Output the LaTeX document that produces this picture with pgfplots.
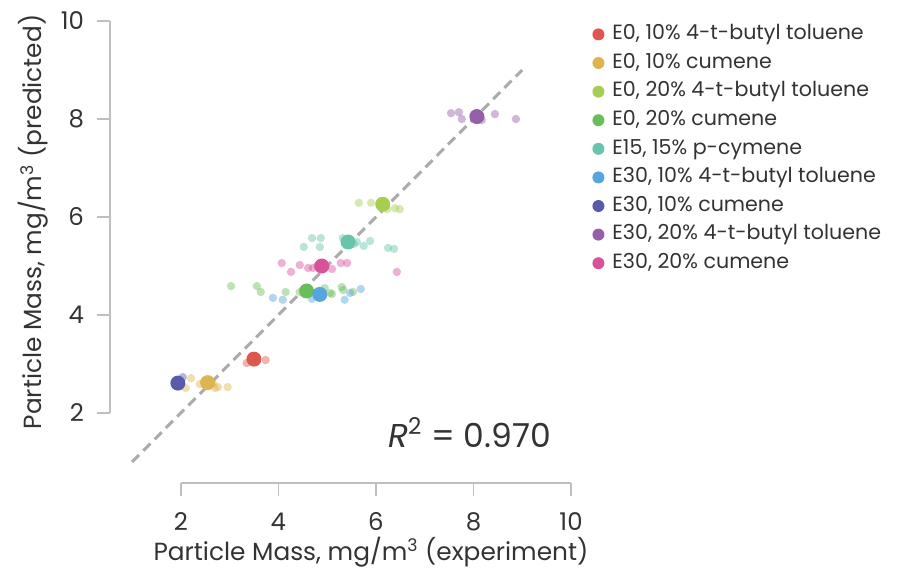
\documentclass[border=0pt]{standalone}
\usepackage{pgfplots}
\pgfplotsset{compat=1.18}
\usepackage{fontspec}
\setmainfont{Poppins}
\definecolor{cA}{RGB}{221,87,78}
\definecolor{cB}{RGB}{222,180,80}
\definecolor{cC}{RGB}{166,206,80}
\definecolor{cD}{RGB}{106,190,90}
\definecolor{cE}{RGB}{104,196,170}
\definecolor{cF}{RGB}{86,165,220}
\definecolor{cG}{RGB}{90,90,170}
\definecolor{cH}{RGB}{150,95,170}
\definecolor{cI}{RGB}{215,82,155}
\definecolor{txt}{RGB}{51,51,51}
\pgfplotsset{
  small/.style={only marks, mark=*, mark size=2.1pt, forget plot, color=#1,
    mark options={fill=#1, fill opacity=0.45, draw opacity=0}},
  big/.style={only marks, mark=*, mark size=3.75pt, color=#1,
    mark options={fill=#1, draw opacity=0}},
}
\begin{document}
\begin{tikzpicture}
\begin{axis}[
  at={(0,0)}, anchor=south west,
  scale only axis, width=230.5pt, height=231pt,
  xmin=0.5487, xmax=10, ymin=0.5714, ymax=10,
  axis x line*=bottom, axis y line*=left,
  axis line style={draw=none},
  xtick={2,4,6,8,10}, ytick={2,4,6,8,10},
  tick align=outside,
  major tick length=6.5pt,
  tick style={draw=black!25, line width=0.75pt},
  ticklabel style={font=\fontsize{12.2}{14}\selectfont, text=txt},
  /pgf/number format/assume math mode=true,
  xticklabel style={anchor=base, yshift=-17pt},
  yticklabel style={anchor=east, xshift=-3pt},
  xlabel={Particle Mass, mg/m\textsuperscript{3} (experiment)},
  ylabel={Particle Mass, mg/m\textsuperscript{3} (predicted)},
  label style={font=\fontsize{12.4}{14}\selectfont, text=txt},
  xlabel style={at={(axis description cs:0.566,-0.1667)}, anchor=base},
  ylabel style={at={(axis description cs:-0.1475,0.565)}, anchor=base},
  clip=false,
  legend style={at={(axis description cs:1.0456,0.9935)}, anchor=north west,
    draw=none, fill=none, font=\fontsize{10.3}{12}\selectfont, text=txt,
    row sep=4.3pt, column sep=2pt, inner sep=0pt,
    nodes={inner ysep=0pt, text height=7.6pt, text depth=2.4pt}},
  legend cell align=left,
  legend image code/.code={\draw[#1, mark size=3pt] plot coordinates {(0pt,0pt)};},
]
\addplot[forget plot, color=black!33, line width=1.5pt, dash pattern=on 5pt off 3pt] coordinates {(1,1) (9,9)};

\addplot[small=cA] coordinates {(3.35,3.02) (3.74,3.08) (3.45,3.07)};
\addplot[small=cB] coordinates {(2.21,2.71) (2.10,2.51) (2.39,2.59) (2.66,2.61) (2.76,2.53) (2.96,2.53) (2.70,2.51) (2.50,2.58)};
\addplot[small=cC] coordinates {(5.65,6.29) (5.90,6.29) (6.23,6.16) (6.39,6.18) (6.49,6.16) (6.20,6.22)};
\addplot[small=cD] coordinates {(3.03,4.59) (3.56,4.59) (3.64,4.47) (4.15,4.47) (4.44,4.47) (4.95,4.55) (5.06,4.45) (5.30,4.57) (5.33,4.51) (5.53,4.47) (5.10,4.43) (4.60,4.43)};
\addplot[small=cE] coordinates {(4.69,5.57) (4.87,5.57) (4.52,5.39) (4.85,5.39) (5.32,5.57) (5.61,5.49) (5.75,5.41) (5.88,5.51) (6.25,5.37) (6.37,5.35) (5.55,5.45)};
\addplot[small=cF] coordinates {(3.89,4.35) (4.09,4.31) (4.69,4.33) (5.36,4.31) (5.47,4.45) (5.69,4.53)};
\addplot[small=cG] coordinates {(2.04,2.73)};
\addplot[small=cH] coordinates {(7.54,8.12) (7.70,8.14) (7.76,8.00) (8.17,7.98) (8.44,8.10) (8.87,8.00)};
\addplot[small=cI] coordinates {(4.07,5.06) (4.26,4.88) (4.44,5.02) (4.61,4.96) (4.71,4.96) (5.10,4.94) (5.28,5.06) (5.41,5.06) (6.43,4.88) (4.80,5.00)};

\addplot[big=cA] coordinates {(3.50,3.10)};
\addlegendentry{E0, 10\% 4-t-butyl toluene}
\addplot[big=cB] coordinates {(2.55,2.62)};
\addlegendentry{E0, 10\% cumene}
\addplot[big=cC] coordinates {(6.14,6.26)};
\addlegendentry{E0, 20\% 4-t-butyl toluene}
\addplot[big=cD] coordinates {(4.58,4.49)};
\addlegendentry{E0, 20\% cumene}
\addplot[big=cE] coordinates {(5.43,5.49)};
\addlegendentry{E15, 15\% p-cymene}
\addplot[big=cF] coordinates {(4.85,4.42)};
\addlegendentry{E30, 10\% 4-t-butyl toluene}
\addplot[big=cG] coordinates {(1.94,2.61)};
\addlegendentry{E30, 10\% cumene}
\addplot[big=cH] coordinates {(8.07,8.05)};
\addlegendentry{E30, 20\% 4-t-butyl toluene}
\addplot[big=cI] coordinates {(4.89,5.00)};
\addlegendentry{E30, 20\% cumene}

\draw[black!25, line width=0.75pt] (axis cs:2,0.5714) -- (axis cs:10,0.5714);
\draw[black!25, line width=0.75pt] (axis cs:0.5487,2) -- (axis cs:0.5487,10);
\node[anchor=base west, font=\fontsize{16.5}{18}\selectfont, text=txt] at (axis cs:6.106,1.306) {\textit{R}\textsuperscript{2} = 0.970};
\end{axis}
\pgfresetboundingbox
\path (-55pt,-43pt) rectangle (396.5pt,241.5pt);
\end{tikzpicture}
\end{document}
